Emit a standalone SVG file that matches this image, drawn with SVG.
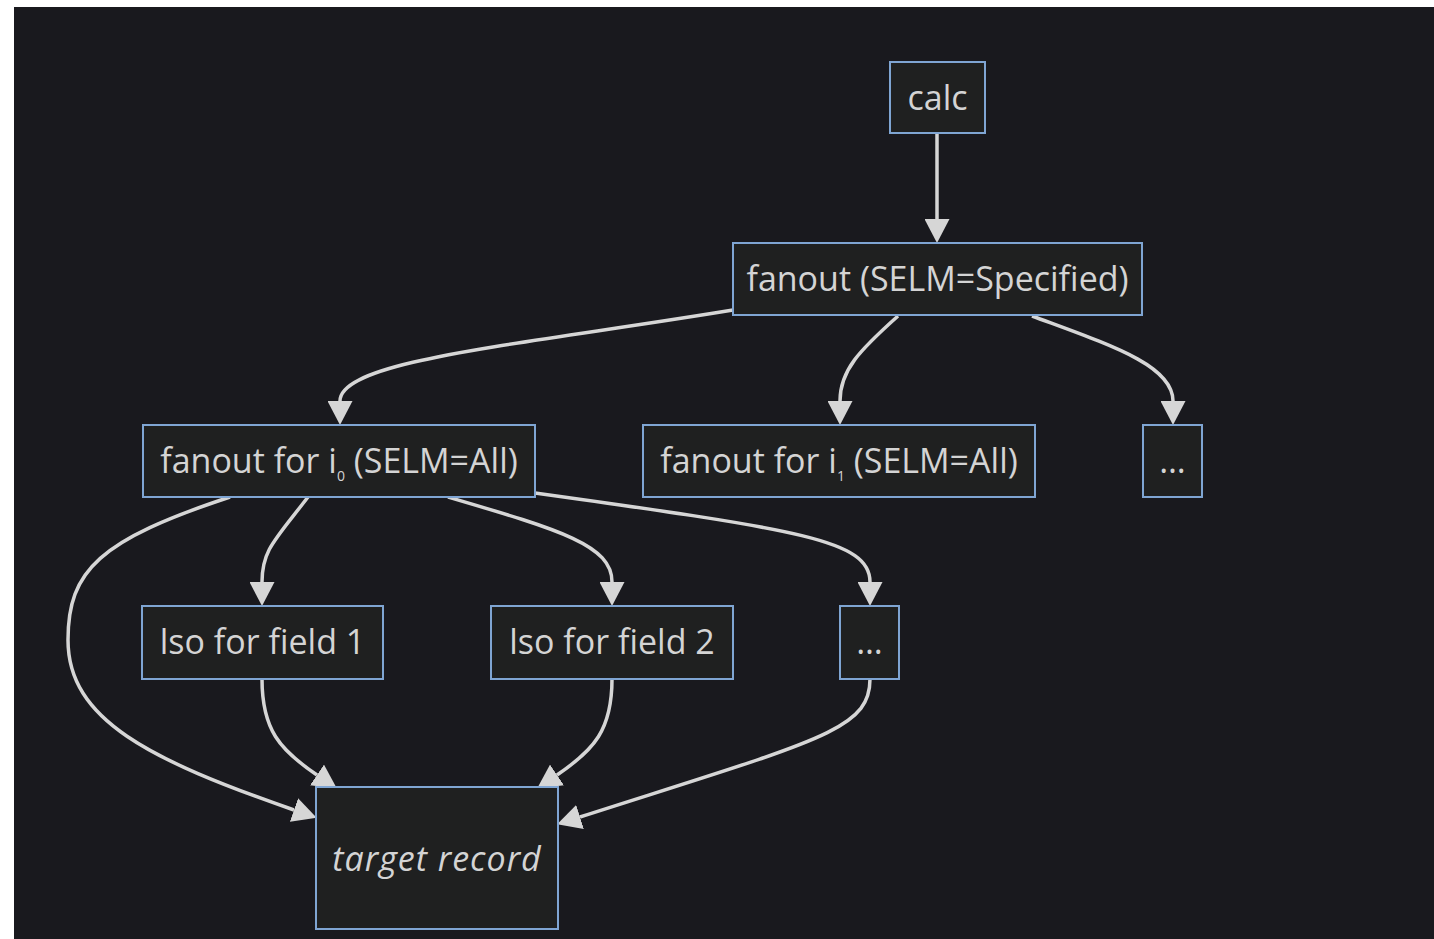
<svg xmlns="http://www.w3.org/2000/svg" width="1434" height="939" viewBox="0 0 1434 939">
<defs>
<style>
.node rect{fill:#1f2020;stroke:#7fa5d3;stroke-width:2}
.node text{fill:#d4d4d4;font-family:"Open Sans","DejaVu Sans",sans-serif;font-size:34px;text-anchor:middle}
.edges path{fill:none;stroke:#d6d6d6;stroke-width:3.5}
.sub{font-size:14px}
</style>
<marker id="arr" viewBox="0 0 12 12" refX="0" refY="6" markerWidth="24" markerHeight="25" markerUnits="userSpaceOnUse" orient="auto" preserveAspectRatio="none">
<path d="M0,0 L12,6 L0,12 z" fill="#d6d6d6"/>
</marker>
</defs>
<rect x="0" y="0" width="1434" height="939" fill="#ffffff"/>
<rect x="14" y="7" width="1420" height="932" fill="#19191e"/>
<g class="edges">
<path d="M937,133 L937,219" marker-end="url(#arr)"/>
<path d="M733,310 C520,345 340,360 340,401" marker-end="url(#arr)"/>
<path d="M898,316 C860,350 840,370 840,401" marker-end="url(#arr)"/>
<path d="M1032,316 C1110,345 1173,365 1173,401" marker-end="url(#arr)"/>
<path d="M230,497 C100,540 68,570 68,640 C68,720 150,760 294,810" marker-end="url(#arr)"/>
<path d="M308,497 C275,540 262,550 262,582" marker-end="url(#arr)"/>
<path d="M448,497 C560,530 612,545 612,582" marker-end="url(#arr)"/>
<path d="M535,493 C800,530 870,540 870,582" marker-end="url(#arr)"/>
<path d="M262,679 C262,730 280,750 317,775" marker-end="url(#arr)"/>
<path d="M612,679 C612,730 594,750 557,775" marker-end="url(#arr)"/>
<path d="M870,679 C870,730 820,740 580,817" marker-end="url(#arr)"/>
</g>
<g id="calc" class="node"><rect x="890" y="62" width="95" height="71"/><text x="937.5" y="110">calc</text></g>
<g id="fanout" class="node"><rect x="733" y="243" width="409" height="72"/><text x="937.5" y="291">fanout (SELM=Specified)</text></g>
<g id="fanout_i0" class="node"><rect x="143" y="425" width="392" height="72"/><text x="339" y="473">fanout for i<tspan class="sub" dy="8">0</tspan><tspan dy="-8"> (SELM=All)</tspan></text></g>
<g id="fanout_i1" class="node"><rect x="643" y="425" width="392" height="72"/><text x="839" y="473">fanout for i<tspan class="sub" dy="8">1</tspan><tspan dy="-8"> (SELM=All)</tspan></text></g>
<g id="more1" class="node"><rect x="1143" y="425" width="59" height="72"/><text x="1172.5" y="473">…</text></g>
<g id="lso1" class="node"><rect x="142" y="606" width="241" height="73"/><text x="262.5" y="654">lso for field 1</text></g>
<g id="lso2" class="node"><rect x="491" y="606" width="242" height="73"/><text x="612" y="654">lso for field 2</text></g>
<g id="more2" class="node"><rect x="840" y="606" width="59" height="73"/><text x="869.5" y="654">…</text></g>
<g id="target" class="node"><rect x="316" y="787" width="242" height="142"/><text x="437" y="871" font-style="italic" letter-spacing="1">target record</text></g>
</svg>
